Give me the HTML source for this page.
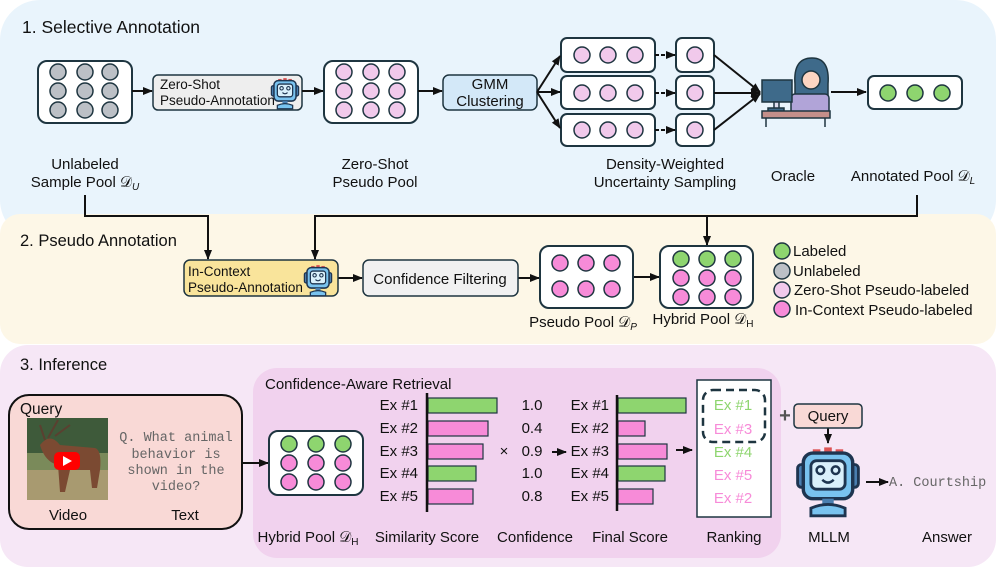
<!DOCTYPE html>
<html><head><meta charset="utf-8"><style>
html,body{margin:0;padding:0;background:#fff}
svg{display:block}
text{font-family:"Liberation Sans",Arial,sans-serif;fill:#111}
.m{font-family:"Liberation Mono",monospace;fill:#666}
</style></head><body>
<svg width="996" height="567" viewBox="0 0 996 567" xmlns="http://www.w3.org/2000/svg">
<defs>
<marker id="ah" markerWidth="10" markerHeight="10" refX="9" refY="5" orient="auto" markerUnits="userSpaceOnUse"><path d="M0,1 L10,5 L0,9z" fill="#111"/></marker>
<g id="robot">
<rect x="-2" y="-14" width="4" height="4" fill="#d55"/><rect x="-8" y="-13" width="4" height="3" fill="#d55"/><rect x="4" y="-13" width="4" height="3" fill="#d55"/>
<rect x="-16" y="-5" width="5" height="12" rx="2" fill="#4a7fb0" stroke="#1e3550" stroke-width="1.5"/>
<rect x="11" y="-5" width="5" height="12" rx="2" fill="#4a7fb0" stroke="#1e3550" stroke-width="1.5"/>
<rect x="-13" y="-11" width="26" height="24" rx="5" fill="#79c3ef" stroke="#1e3550" stroke-width="1.8"/>
<rect x="-9" y="-7" width="18" height="15" rx="3" fill="#d9f0fb" stroke="#1e3550" stroke-width="1.5"/>
<circle cx="-4" cy="-2" r="2" fill="none" stroke="#1e3550" stroke-width="1.3"/><circle cx="4" cy="-2" r="2" fill="none" stroke="#1e3550" stroke-width="1.3"/>
<path d="M-3,3 Q0,6 3,3" fill="none" stroke="#1e3550" stroke-width="1.3"/>
<rect x="-3" y="13" width="6" height="3" fill="#4a7fb0"/>
<path d="M-9,22 L-9,18 Q0,14 9,18 L9,22z" fill="#79c3ef" stroke="#1e3550" stroke-width="1.5"/>
</g>
</defs>

<!-- panels -->
<rect x="0" y="0" width="996" height="240" rx="40" fill="#e9f4fc"/>
<rect x="0" y="214" width="996" height="130" rx="20" fill="#fdf7e7"/>
<rect x="0" y="345" width="996" height="222" rx="28" fill="#f6e7f6"/>
<rect x="253" y="368" width="528" height="190" rx="24" fill="#f1d2ee"/>

<text x="22" y="33" font-size="17.5">1.  Selective Annotation</text>
<text x="20" y="246" font-size="16.5">2. Pseudo Annotation</text>
<text x="20" y="370" font-size="16.5">3. Inference</text>

<g stroke="#1e3540" stroke-width="2">
<rect x="38" y="61" width="94" height="62" rx="9" fill="#fff"/>
<g fill="#bcc0c6" stroke-width="1.5"><circle cx="58" cy="72" r="8"/><circle cx="85" cy="72" r="8"/><circle cx="110" cy="72" r="8"/><circle cx="58" cy="91" r="8"/><circle cx="85" cy="91" r="8"/><circle cx="110" cy="91" r="8"/><circle cx="58" cy="110" r="8"/><circle cx="85" cy="110" r="8"/><circle cx="110" cy="110" r="8"/></g>
<rect x="153" y="75" width="149" height="35" rx="5" fill="#eeeeee" stroke-width="1.5"/>
<rect x="324" y="61" width="94" height="62" rx="9" fill="#fff"/>
<g fill="#f1c9eb" stroke-width="1.5"><circle cx="344" cy="72" r="8"/><circle cx="371" cy="72" r="8"/><circle cx="397" cy="72" r="8"/><circle cx="344" cy="91" r="8"/><circle cx="371" cy="91" r="8"/><circle cx="397" cy="91" r="8"/><circle cx="344" cy="110" r="8"/><circle cx="371" cy="110" r="8"/><circle cx="397" cy="110" r="8"/></g>
<rect x="443" y="75" width="94" height="35" rx="6" fill="#d3e8f8" stroke-width="1.5"/>
<rect x="561" y="38" width="94" height="34" rx="6" fill="#fff"/>
<rect x="561" y="76" width="94" height="33" rx="6" fill="#fff"/>
<rect x="561" y="114" width="94" height="32" rx="6" fill="#fff"/>
<rect x="676" y="38" width="38" height="34" rx="6" fill="#fff"/>
<rect x="676" y="76" width="38" height="33" rx="6" fill="#fff"/>
<rect x="676" y="114" width="38" height="32" rx="6" fill="#fff"/>
<g fill="#f1c9eb" stroke-width="1.5">
<circle cx="582" cy="55" r="8"/><circle cx="608" cy="55" r="8"/><circle cx="635" cy="55" r="8"/><circle cx="695" cy="55" r="8"/>
<circle cx="582" cy="93" r="8"/><circle cx="608" cy="93" r="8"/><circle cx="635" cy="93" r="8"/><circle cx="695" cy="93" r="8"/>
<circle cx="582" cy="130" r="8"/><circle cx="608" cy="130" r="8"/><circle cx="635" cy="130" r="8"/><circle cx="695" cy="130" r="8"/></g>
<rect x="868" y="76" width="94" height="33" rx="6" fill="#fff"/>
<g fill="#8ed56f" stroke-width="1.5"><circle cx="888" cy="93" r="8"/><circle cx="915" cy="93" r="8"/><circle cx="942" cy="93" r="8"/></g>
</g>

<!-- oracle -->
<g stroke="#1e3540" stroke-width="1.5">
<path d="M795,84 Q793,58 812,58 Q830,58 828,84 L828,96 L795,96z" fill="#3e6a8a"/>
<rect x="791" y="94" width="38" height="20" rx="4" fill="#b1a4d8"/>
<circle cx="811" cy="80" r="9" fill="#fcd5c2"/>
<rect x="762" y="80" width="30" height="22" fill="#3e6a8a"/>
<rect x="774" y="102" width="5" height="8" fill="#dde"/>
<rect x="768" y="108" width="16" height="4" fill="#3e6a8a"/>
<rect x="762" y="111" width="68" height="7" fill="#c48f8a"/>
<line x1="766" y1="118" x2="766" y2="127"/><line x1="825" y1="118" x2="825" y2="127"/>
</g>

<use href="#robot" transform="translate(285 90) scale(0.85)"/>

<g font-size="13.5">
<text x="160" y="89">Zero-Shot</text><text x="160" y="105">Pseudo-Annotation</text>
</g>
<g font-size="15" text-anchor="middle">
<text x="490" y="89">GMM</text><text x="490" y="106">Clustering</text>
<text x="85" y="169">Unlabeled</text><text x="85" y="187">Sample Pool 𝒟<tspan font-size="10" dy="3" font-style="italic">U</tspan></text>
<text x="375" y="169">Zero-Shot</text><text x="375" y="187">Pseudo Pool</text>
<text x="665" y="169">Density-Weighted</text><text x="665" y="187">Uncertainty Sampling</text>
<text x="793" y="181">Oracle</text>
<text x="913" y="181">Annotated Pool 𝒟<tspan font-size="10" dy="3" font-style="italic">L</tspan></text>
</g>

<g stroke="#111" stroke-width="2" fill="none" marker-end="url(#ah)">
<line x1="132" y1="91" x2="152" y2="91"/>
<line x1="302" y1="91" x2="323" y2="91"/>
<line x1="418" y1="91" x2="442" y2="91"/>
<line x1="537" y1="92" x2="560" y2="56"/>
<line x1="537" y1="92" x2="560" y2="92"/>
<line x1="537" y1="92" x2="560" y2="128"/>
<line x1="655" y1="55" x2="675" y2="55" stroke-dasharray="4,2"/>
<line x1="655" y1="93" x2="675" y2="93" stroke-dasharray="4,2"/>
<line x1="655" y1="130" x2="675" y2="130" stroke-dasharray="4,2"/>
<line x1="714" y1="55" x2="760" y2="92"/>
<line x1="714" y1="93" x2="760" y2="93"/>
<line x1="714" y1="130" x2="760" y2="94"/>
<line x1="831" y1="92" x2="866" y2="92"/>
<polyline points="85,195 85,216 208,216 208,259"/>
<polyline points="917,195 917,216 315,216 315,259"/>
<line x1="707" y1="216" x2="707" y2="245"/>
<line x1="338" y1="278" x2="362" y2="278"/>
<line x1="518" y1="278" x2="539" y2="278"/>
<line x1="633" y1="277" x2="659" y2="277"/>
</g>

<!-- panel 2 -->
<g stroke="#1e3540" stroke-width="2">
<rect x="184" y="260" width="154" height="36" rx="6" fill="#f9e49b" stroke-width="1.5"/>
<rect x="363" y="260" width="155" height="36" rx="6" fill="#f1f1f1" stroke-width="1.5"/>
<rect x="540" y="246" width="93" height="62" rx="9" fill="#fff"/>
<rect x="660" y="246" width="93" height="62" rx="9" fill="#fff"/>
<g stroke-width="1.5">
<g fill="#f78bd8"><circle cx="560" cy="263" r="8"/><circle cx="586" cy="263" r="8"/><circle cx="612" cy="263" r="8"/><circle cx="560" cy="289" r="8"/><circle cx="586" cy="289" r="8"/><circle cx="612" cy="289" r="8"/>
<circle cx="681" cy="278" r="8"/><circle cx="707" cy="278" r="8"/><circle cx="733" cy="278" r="8"/><circle cx="681" cy="297" r="8"/><circle cx="707" cy="297" r="8"/><circle cx="733" cy="297" r="8"/></g>
<g fill="#8ed56f"><circle cx="681" cy="259" r="8"/><circle cx="707" cy="259" r="8"/><circle cx="733" cy="259" r="8"/></g>
<circle cx="782" cy="251" r="8" fill="#8ed56f"/>
<circle cx="782" cy="271" r="8" fill="#bcc0c6"/>
<circle cx="782" cy="290" r="8" fill="#f1c9eb"/>
<circle cx="782" cy="309" r="8" fill="#f78bd8"/>
</g></g>
<use href="#robot" transform="translate(318 277) scale(0.85)"/>
<g font-size="13.5"><text x="188" y="276">In-Context</text><text x="188" y="292">Pseudo-Annotation</text></g>
<text x="440" y="284" font-size="15" text-anchor="middle">Confidence Filtering</text>
<g font-size="15" text-anchor="middle">
<text x="583" y="327">Pseudo Pool 𝒟<tspan font-size="10" dy="3" font-style="italic">P</tspan></text>
<text x="703" y="324">Hybrid Pool 𝒟<tspan font-size="10" dy="3">H</tspan></text>
</g>
<g font-size="15"><text x="793" y="256">Labeled</text><text x="793" y="276">Unlabeled</text><text x="794" y="295">Zero-Shot Pseudo-labeled</text><text x="795" y="315">In-Context Pseudo-labeled</text></g>

<!-- panel 3 -->
<rect x="9" y="395" width="233" height="134" rx="20" fill="#f9d9d6" stroke="#111" stroke-width="2"/>
<text x="20" y="414" font-size="15.5">Query</text>
<rect x="27" y="418" width="81" height="82" fill="#7a8a5a"/>
<rect x="27" y="418" width="81" height="35" fill="#3e5a3a"/>
<rect x="27" y="470" width="81" height="30" fill="#a89a70"/>
<path d="M40,445 Q50,432 60,445 L95,448 Q102,450 100,470 L97,488 L92,488 L90,470 L70,470 L65,492 L60,492 L58,465 Q45,462 40,445z" fill="#7b4a32"/>
<path d="M45,440 L40,425 M48,438 L58,420 M55,436 L70,425" stroke="#5a4030" stroke-width="2" fill="none"/>
<rect x="54" y="452" width="26" height="18" rx="5" fill="#f00"/>
<path d="M63,456 L63,466 L72,461z" fill="#fff"/>
<g font-size="13.5" text-anchor="middle"><text class="m" x="176" y="441">Q. What animal</text><text class="m" x="176" y="458">behavior is</text><text class="m" x="176" y="474">shown in the</text><text class="m" x="176" y="490">video?</text></g>
<g font-size="15" text-anchor="middle"><text x="68" y="520">Video</text><text x="185" y="520">Text</text></g>

<g stroke="#111" stroke-width="2" fill="none" marker-end="url(#ah)">
<line x1="242" y1="463" x2="268" y2="463"/>
<line x1="552" y1="452" x2="566" y2="452"/>
<line x1="676" y1="450" x2="692" y2="450"/>
<line x1="828" y1="428" x2="828" y2="443"/>
<line x1="866" y1="482" x2="888" y2="482"/>
</g>

<g stroke="#1e3540" stroke-width="2">
<rect x="269" y="431" width="94" height="64" rx="9" fill="#fff"/>
<g stroke-width="1.5">
<g fill="#8ed56f"><circle cx="289" cy="444" r="8"/><circle cx="316" cy="444" r="8"/><circle cx="343" cy="444" r="8"/></g>
<g fill="#f78bd8"><circle cx="289" cy="463" r="8"/><circle cx="316" cy="463" r="8"/><circle cx="343" cy="463" r="8"/><circle cx="289" cy="482" r="8"/><circle cx="316" cy="482" r="8"/><circle cx="343" cy="482" r="8"/></g>
</g>
<g stroke-width="1.2">
<rect x="428" y="398" width="69" height="15" fill="#8ed56f"/>
<rect x="428" y="421" width="60" height="15" fill="#f78bd8"/>
<rect x="428" y="444" width="55" height="15" fill="#f78bd8"/>
<rect x="428" y="466" width="48" height="15" fill="#8ed56f"/>
<rect x="428" y="489" width="45" height="15" fill="#f78bd8"/>
<rect x="618" y="398" width="68" height="15" fill="#8ed56f"/>
<rect x="618" y="421" width="27" height="15" fill="#f78bd8"/>
<rect x="618" y="444" width="49" height="15" fill="#f78bd8"/>
<rect x="618" y="466" width="47" height="15" fill="#8ed56f"/>
<rect x="618" y="489" width="35" height="15" fill="#f78bd8"/>
</g>
<line x1="427" y1="393" x2="427" y2="512" stroke="#111" stroke-width="2.5"/>
<line x1="617" y1="395" x2="617" y2="511" stroke="#111" stroke-width="2.5"/>
<rect x="697" y="380" width="74" height="137" fill="#fff" stroke-width="1.5"/>
<rect x="703" y="390" width="62" height="52" rx="10" fill="none" stroke-dasharray="8,5" stroke-width="2.5"/>
<rect x="794" y="404" width="68" height="24" rx="4" fill="#f9d9d6" stroke-width="1.5"/>
</g>
<g font-size="15">
<g text-anchor="end"><text x="418" y="410">Ex #1</text><text x="418" y="433">Ex #2</text><text x="418" y="456">Ex #3</text><text x="418" y="478">Ex #4</text><text x="418" y="501">Ex #5</text>
<text x="609" y="410">Ex #1</text><text x="609" y="433">Ex #2</text><text x="609" y="456">Ex #3</text><text x="609" y="478">Ex #4</text><text x="609" y="501">Ex #5</text></g>
<g text-anchor="middle"><text x="532" y="410">1.0</text><text x="532" y="433">0.4</text><text x="532" y="456">0.9</text><text x="532" y="478">1.0</text><text x="532" y="501">0.8</text>
<text x="504" y="456">×</text>
<text x="733" y="410" style="fill:#8ed56f">Ex #1</text><text x="733" y="434" style="fill:#f78bd8">Ex #3</text><text x="733" y="457" style="fill:#8ed56f">Ex #4</text><text x="733" y="480" style="fill:#f78bd8">Ex #5</text><text x="733" y="503" style="fill:#f78bd8">Ex #2</text>
<text x="828" y="421">Query</text>
<text x="308" y="542">Hybrid Pool 𝒟<tspan font-size="10" dy="3">H</tspan></text>
<text x="427" y="542">Similarity Score</text><text x="535" y="542">Confidence</text><text x="630" y="542">Final Score</text><text x="734" y="542">Ranking</text><text x="829" y="542">MLLM</text><text x="947" y="542">Answer</text>
</g>
<text x="265" y="389">Confidence-Aware Retrieval</text>
</g>
<text x="785" y="422" font-size="20" text-anchor="middle" style="fill:#555;font-weight:bold">+</text>
<use href="#robot" transform="translate(828 474) scale(1.9)"/>
<text class="m" x="889" y="486" font-size="13.5">A. Courtship</text>
</svg>
</body></html>
